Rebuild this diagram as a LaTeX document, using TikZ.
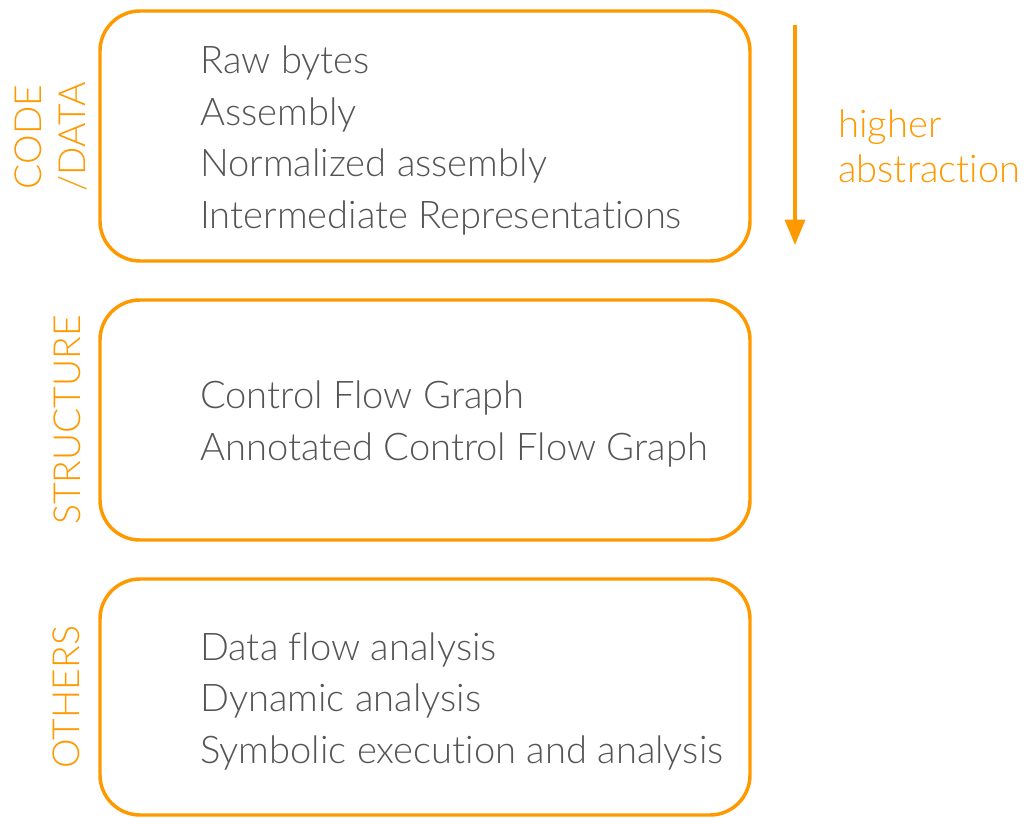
\documentclass[tikz,border=0pt]{standalone}
\usepackage{fontspec}
\setmainfont{Lato Light}[Ligatures=NoCommon]
\usetikzlibrary{arrows.meta}
\definecolor{accent}{RGB}{255,153,0}
\definecolor{bodytext}{RGB}{85,85,85}
\tikzset{
  layer/.style={draw=accent, line width=2.6pt, rounded corners=30pt,
    minimum width=487.5pt, inner sep=0pt},
  items/.style={anchor=base west, align=left, text=bodytext,
    font=\fontsize{28.6}{38.6}\selectfont, inner sep=0pt},
  tag/.style={rotate=90, align=center, text=accent,
    font=\fontsize{28}{33}\selectfont, inner sep=0pt}
}
\begin{document}
\begin{tikzpicture}[x=0.75pt, y=-0.75pt]
      \useasboundingbox (0,0) rectangle (1027,817);
      \node[layer, minimum height=187.5pt] (code) at (425,136) {};
      \node[layer, minimum height=180pt] (struct) at (425,420) {};
      \node[layer, minimum height=177pt] (other) at (425,697) {};
      % anchored at the baseline of the last line
      \node[items] (codeitems) at (200,228)
        {Raw bytes\\Assembly\\Normalized assembly\\Intermediate Representations};
      \node[items] (structitems) at (200,460)
        {Control Flow Graph\\Annotated Control Flow Graph};
      \node[items] (otheritems) at (200,763)
        {Data flow analysis\\Dynamic analysis\\Symbolic execution and analysis};
      \node[tag] (codetag) at (51,137) {CODE\\/DATA};
      \node[tag] (structtag) at (67,420) {STRUCTURE};
      \node[tag] (othertag) at (66,697) {OTHERS};
      \coordinate (top) at (795,25);
      \coordinate (bottom) at (795,245);
      \draw[accent, line width=2.6pt, -{Triangle[width=15pt, length=19pt]}]
        (top) -- (bottom);
      \node[anchor=base west, align=left, text=accent, inner sep=0pt,
        font=\fontsize{28.6}{33.75}\selectfont] (abstr) at (838,182)
        {higher\\abstraction};
\end{tikzpicture}
\end{document}
